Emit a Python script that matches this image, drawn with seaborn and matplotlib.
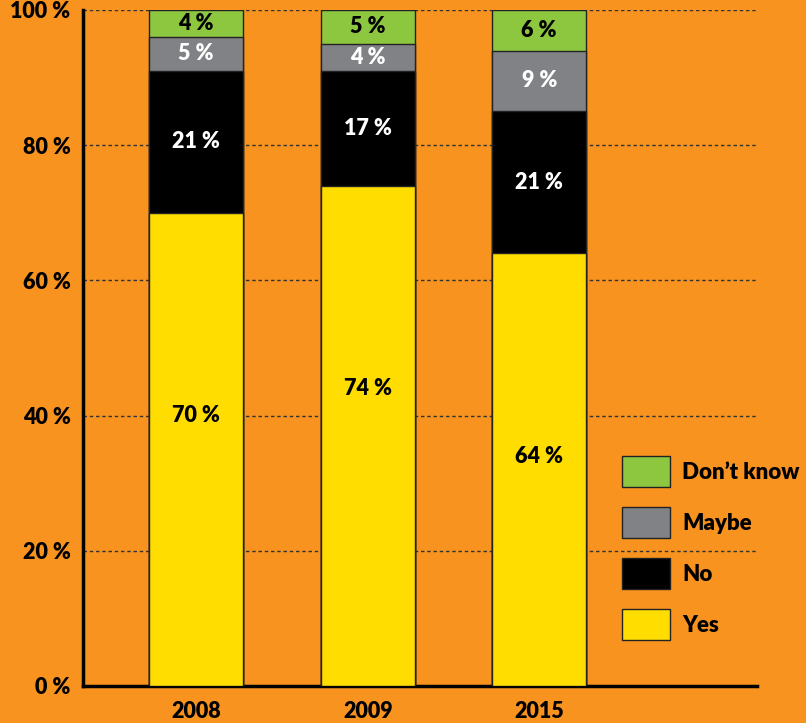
import matplotlib
matplotlib.use("Agg")
import matplotlib.pyplot as plt
import matplotlib.patches as mpatches
import seaborn as sns
import numpy as np

# data
years = ["2008", "2009", "2015"]
yes = [70, 74, 64]
no = [21, 17, 21]
maybe = [5, 4, 9]
dont_know = [4, 5, 6]
y_ticks = [0, 20, 40, 60, 80, 100]

BG = "#F7931E"
YELLOW = "#FFDD00"
BLACK = "#000000"
GREY = "#808285"
GREEN = "#8DC63F"
FW = "heavy"

sns.set_theme(style="white")
plt.rcParams["font.family"] = ["Lato", "DejaVu Sans"]
plt.rcParams["font.weight"] = FW
plt.rcParams["text.color"] = "black"
plt.rcParams["xtick.color"] = "black"
plt.rcParams["ytick.color"] = "black"

fig = plt.figure(figsize=(8.06, 7.23), dpi=100, facecolor=BG)
ax = fig.add_axes([83 / 806, 37 / 723, (757 - 83) / 806, (686 - 10) / 723])
ax.set_facecolor(BG)

# stacked bars: draw cumulative totals from the top layer down
layers = [
    ("Don\u2019t know", dont_know, GREEN, "black"),
    ("Maybe", maybe, GREY, "white"),
    ("No", no, BLACK, "white"),
    ("Yes", yes, YELLOW, "black"),
]
stack = [yes, no, maybe, dont_know]
cum = np.cumsum(np.array(stack), axis=0)  # rows: yes, yes+no, ..., total
cum_by_layer = {"Yes": cum[0], "No": cum[1], "Maybe": cum[2], "Don\u2019t know": cum[3]}

for name, vals, col, _ in layers:
    sns.barplot(x=years, y=cum_by_layer[name], color=col, width=0.55,
                edgecolor="#222222", linewidth=1, saturation=1, ax=ax, zorder=3)

# value labels
for name, vals, col, tcol in layers:
    tops = cum_by_layer[name]
    for i, v in enumerate(vals):
        if name == "Yes":
            ypos = tops[i] - 30
        else:
            ypos = tops[i] - v / 2
        ax.text(i, ypos, f"{v} %", ha="center", va="center", color=tcol,
                fontsize=15.5, fontweight=FW, zorder=5)

ax.set_xlim(-0.66, 3.27)
ax.set_ylim(0, 100)
ax.set_yticks(y_ticks)
ax.set_yticklabels([f"{t} %" for t in y_ticks])
for t in y_ticks[1:]:
    ax.axhline(t, color="#333333", linewidth=1, linestyle=(0, (2.5, 2)), zorder=1)

ax.tick_params(axis="y", length=0, pad=9, labelsize=15.5)
ax.tick_params(axis="x", length=0, pad=11, labelsize=15.5)
for lab in ax.get_xticklabels() + ax.get_yticklabels():
    lab.set_fontweight(FW)
ax.set_xlabel("")
ax.set_ylabel("")

for s in ["top", "right"]:
    ax.spines[s].set_visible(False)
ax.spines["left"].set_linewidth(2.5)
ax.spines["bottom"].set_linewidth(2.5)
ax.spines["left"].set_color("black")
ax.spines["bottom"].set_color("black")

handles = [mpatches.Patch(facecolor=col, edgecolor="#222222", linewidth=1, label=name)
           for name, vals, col, tcol in layers]
leg = fig.legend(handles=handles, loc="upper left",
                 bbox_to_anchor=(622 / 806, 1 - 456 / 723), frameon=False,
                 handlelength=2.15, handleheight=1.8, labelspacing=0.88,
                 handletextpad=0.55, borderpad=0, borderaxespad=0,
                 prop={"size": 16, "weight": FW})

fig.savefig("out.png", dpi=100, facecolor=BG)
